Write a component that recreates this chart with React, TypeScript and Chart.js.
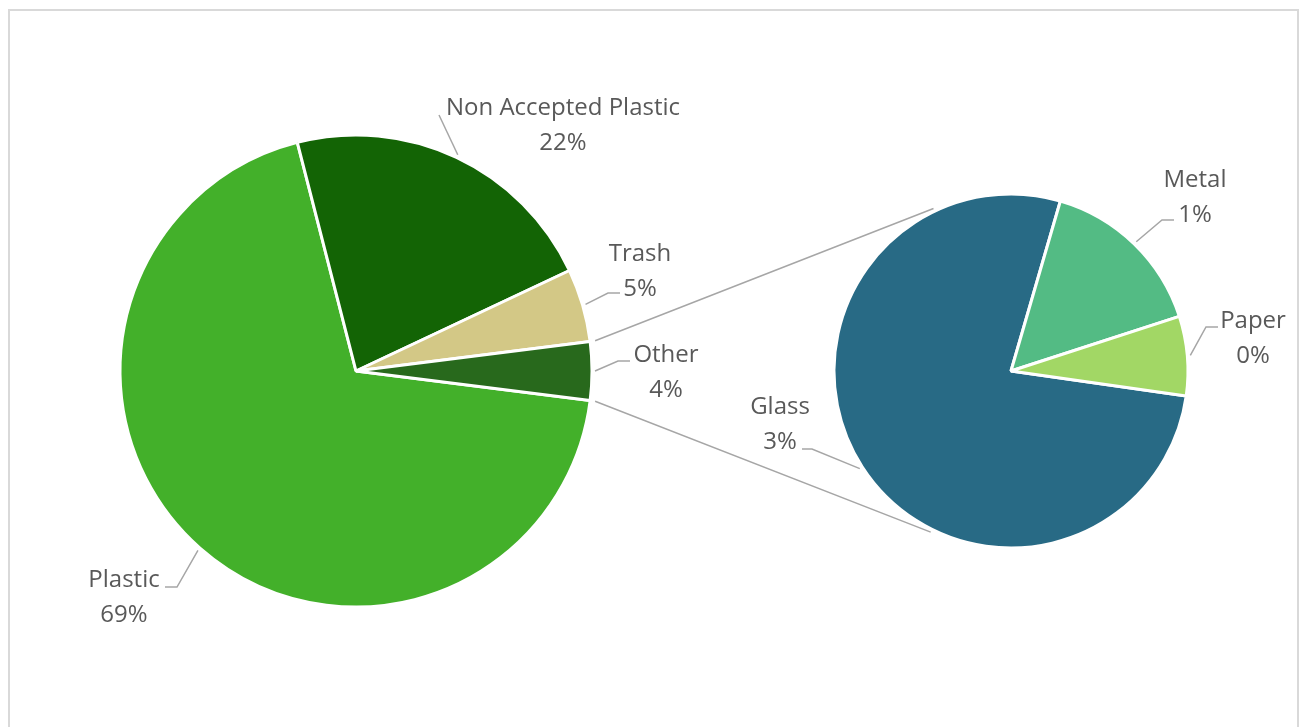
import React, { useEffect, useRef } from "react";
import { Chart, registerables } from "chart.js";

Chart.register(...registerables);

// ---- data ----
const mainLabels = ["Plastic", "Non Accepted Plastic", "Trash"];
const mainValues = [69, 22, 5];
const otherLabel = "Other";
const subLabels = ["Glass", "Metal", "Paper"];
const subValues = [3.09, 0.62, 0.29];

// ---- styles ----
const mainColors = ["#43B02A", "#136405", "#D3C886", "#28691C"];
const subColors = ["#286A85", "#53BB84", "#A2D765"];
const TEXT = "#595959";
const LINE = "#A6A6A6";
const FONT = "24px 'Open Sans'";

// label placement offsets (from each pie centre): text x, baseline y, elbow x/y, end x
const mainLabelLayout = [
  { dx: -232, by: 215.5, ex: -179, ey: 216, hx: -191 },
  { dx: 207, by: -256, ex: 83, ey: -256, hx: 83 },
  { dx: 284, by: -110.5, ex: 252, ey: -78, hx: 264 },
  { dx: 310, by: -9.5, ex: 262, ey: -10, hx: 274 },
];
const subLabelLayout = [
  { dx: -231, by: 42.5, ex: -199, ey: 78, hx: -209 },
  { dx: 184, by: -184.5, ex: 151, ey: -151, hx: 163 },
  { dx: 242, by: -43.5, ex: 195, ey: -44, hx: 207 },
];

const W = 1299;
const H = 727;

function sum(a: number[]) {
  return a.reduce((s, v) => s + v, 0);
}

function makeLabelPlugin(labels: string[], values: number[], total: number, layout: any[]) {
  return {
    id: "pieLabels",
    afterDraw(chart: any) {
      const ctx = chart.ctx;
      const arcs = chart.getDatasetMeta(0).data;
      ctx.save();
      arcs.forEach((arc: any, i: number) => {
        const p = arc.getProps(["x", "y", "startAngle", "endAngle", "outerRadius"], true);
        const mid = (p.startAngle + p.endAngle) / 2;
        const L = layout[i];
        const ax = p.x + (p.outerRadius + 3) * Math.cos(mid);
        const ay = p.y + (p.outerRadius + 3) * Math.sin(mid);
        ctx.strokeStyle = LINE;
        ctx.lineWidth = 1.5;
        ctx.beginPath();
        ctx.moveTo(ax, ay);
        ctx.lineTo(p.x + L.ex, p.y + L.ey);
        ctx.lineTo(p.x + L.hx, p.y + L.ey);
        ctx.stroke();
        ctx.fillStyle = TEXT;
        ctx.font = FONT;
        ctx.textAlign = "center";
        ctx.textBaseline = "alphabetic";
        const pct = Math.round((values[i] / total) * 100) + "%";
        ctx.fillText(labels[i], p.x + L.dx, p.y + L.by);
        ctx.fillText(pct, p.x + L.dx, p.y + L.by + 35);
      });
      ctx.restore();
    },
  };
}

export default function App() {
  const refA = useRef<HTMLCanvasElement>(null);
  const refB = useRef<HTMLCanvasElement>(null);

  useEffect(() => {
    document.body.style.overflow = "hidden";
    const otherValue = sum(subValues);
    const allMain = [...mainValues, otherValue];
    const allMainLabels = [...mainLabels, otherLabel];
    const total = sum(allMain);
    const otherFrac = otherValue / total;

    const chartA = new Chart(refA.current!, {
      type: "pie",
      data: {
        labels: allMainLabels,
        datasets: [
          {
            data: allMain,
            backgroundColor: mainColors,
            borderColor: "#FFFFFF",
            borderWidth: 3,
          },
        ],
      },
      options: {
        responsive: false,
        animation: false,
        rotation: 90 + otherFrac * 180,
        radius: 236,
        layout: { padding: { left: 116, top: 131, right: W - 596, bottom: H - 611 } },
        plugins: { legend: { display: false }, tooltip: { enabled: false } },
      } as any,
      plugins: [makeLabelPlugin(allMainLabels, allMain, total, mainLabelLayout)],
    });

    const connectorPlugin = {
      id: "connectors",
      afterDraw(chart: any) {
        const ctx = chart.ctx;
        const otherArc = chartA.getDatasetMeta(0).data[3] as any;
        const a = otherArc.getProps(["x", "y", "startAngle", "endAngle", "outerRadius"], true);
        const b = (chart.getDatasetMeta(0).data[0] as any).getProps(["x", "y", "outerRadius"], true);
        const rA = a.outerRadius + 5;
        const rB = b.outerRadius + 3;
        const topAng = (-115.5 * Math.PI) / 180;
        const botAng = (116.5 * Math.PI) / 180;
        ctx.save();
        ctx.strokeStyle = LINE;
        ctx.lineWidth = 1.5;
        ctx.beginPath();
        ctx.moveTo(a.x + rA * Math.cos(a.startAngle), a.y + rA * Math.sin(a.startAngle));
        ctx.lineTo(b.x + rB * Math.cos(topAng), b.y + rB * Math.sin(topAng));
        ctx.moveTo(a.x + rA * Math.cos(a.endAngle), a.y + rA * Math.sin(a.endAngle));
        ctx.lineTo(b.x + rB * Math.cos(botAng), b.y + rB * Math.sin(botAng));
        ctx.stroke();
        ctx.restore();
      },
    };

    const chartB = new Chart(refB.current!, {
      type: "pie",
      data: {
        labels: subLabels,
        datasets: [
          {
            data: subValues,
            backgroundColor: subColors,
            borderColor: "#FFFFFF",
            borderWidth: 3,
          },
        ],
      },
      options: {
        responsive: false,
        animation: false,
        rotation: 98.1,
        radius: 177,
        layout: { padding: { left: 831, top: 191, right: W - 1191, bottom: H - 551 } },
        plugins: { legend: { display: false }, tooltip: { enabled: false } },
      } as any,
      plugins: [connectorPlugin, makeLabelPlugin(subLabels, subValues, total, subLabelLayout)],
    });

    return () => {
      chartB.destroy();
      chartA.destroy();
    };
  }, []);

  return (
    <div
      style={{
        position: "absolute",
        left: 0,
        top: 0,
        width: W,
        height: H,
        overflow: "hidden",
        background: "#FFFFFF",
      }}
    >
      <div
        style={{
          position: "absolute",
          left: 8,
          top: 9,
          width: 1291,
          height: 800,
          boxSizing: "border-box",
          border: "2px solid #D9D9D9",
        }}
      />
      <canvas
        ref={refA}
        width={W}
        height={H}
        style={{ position: "absolute", left: 0, top: 0, width: W, height: H }}
      />
      <canvas
        ref={refB}
        width={W}
        height={H}
        style={{ position: "absolute", left: 0, top: 0, width: W, height: H }}
      />
    </div>
  );
}
